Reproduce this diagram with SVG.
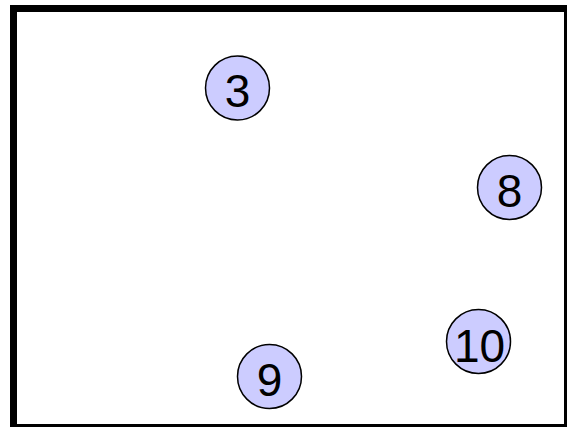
<svg xmlns="http://www.w3.org/2000/svg" width="567" height="428" viewBox="0 0 567 428">
<style>
.node circle{fill:#ccccff;stroke:#000;stroke-width:1.5}
.node text{font-family:"Liberation Sans",Arial,sans-serif;font-size:46px;fill:#000;text-anchor:middle}
</style>
<rect x="0" y="0" width="567" height="428" fill="#fff"/>
<path d="M10 5H567V427H10Z M17 12V424H564V12Z" fill="#000" fill-rule="evenodd"/>
<g id="connectors"></g>
<g id="n3" class="node"><circle cx="237.5" cy="88" r="32"/><text x="237.5" y="107">3</text></g>
<g id="n8" class="node"><circle cx="509.5" cy="187.5" r="32"/><text x="509.5" y="206.5">8</text></g>
<g id="n10" class="node"><circle cx="478.5" cy="341.5" r="32"/><text x="479.5" y="361.5">10</text></g>
<g id="n9" class="node"><circle cx="269.5" cy="376.5" r="32"/><text x="269.5" y="395.5">9</text></g>
</svg>
